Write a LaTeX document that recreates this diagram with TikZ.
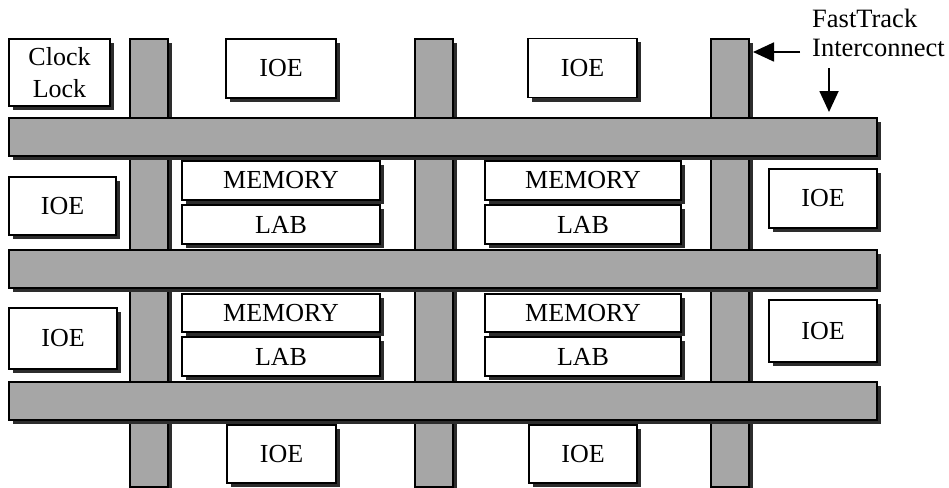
\documentclass[tikz,border=0pt]{standalone}
\usepackage{fontspec}
\setmainfont{Liberation Serif}
\usetikzlibrary{arrows.meta,shadows}
\definecolor{bargray}{RGB}{166,166,166}
\definecolor{shade}{RGB}{45,45,45}
\tikzset{
  shadowed/.style={drop shadow={shadow xshift=4pt, shadow yshift=-4pt, fill=shade, opacity=1}},
  bar/.style={shadowed, draw=black, line width=1.3pt, fill=bargray, inner sep=0pt, outer sep=0pt},
  vbar/.style={bar, minimum width=38pt, minimum height=448pt},
  hbar/.style={bar, minimum width=868pt, minimum height=38pt},
  box/.style={shadowed, draw=black, line width=1.3pt, fill=white, inner sep=0pt, outer sep=0pt,
    font=\fontsize{26}{32}\selectfont, align=center},
  ioe/.style={box, minimum width=108pt, minimum height=59pt},
  mem/.style={box, minimum height=39pt},
  arr/.style={line width=1.8pt, -{Triangle[length=21pt,width=19pt]}}
}
\begin{document}
\begin{tikzpicture}[x=1pt,y=-1pt]
\useasboundingbox (0,0) rectangle (949,487);
% vertical FastTrack bars
\node[vbar] (v1) at (149,263) {};
\node[vbar] (v2) at (434,263) {};
\node[vbar] (v3) at (730,263) {};
% horizontal FastTrack bars
\node[hbar] (h1) at (443,137) {};
\node[hbar] (h2) at (443,269) {};
\node[hbar] (h3) at (443,401) {};
% clock lock
\node[box, minimum width=101pt, minimum height=67pt] (clk) at (59.5,72.5) {Clock\\Lock};
% IOEs
\node[ioe, minimum width=110pt] (ioet1) at (281,68.5) {IOE};
\node[ioe, minimum width=109pt] (ioet2) at (582.5,68) {IOE};
\node[ioe, minimum width=107pt, minimum height=58pt] (ioel1) at (62.5,206) {IOE};
\node[ioe, minimum height=61pt] (ioel2) at (63,338.5) {IOE};
\node[ioe] (ioer1) at (823,198.5) {IOE};
\node[ioe, minimum height=62pt] (ioer2) at (823,331) {IOE};
\node[ioe, minimum width=109pt, minimum height=58pt] (ioeb1) at (281.5,454) {IOE};
\node[ioe, minimum width=108pt, minimum height=58pt] (ioeb2) at (583,454) {IOE};
% MEMORY / LAB
\node[mem, minimum width=198pt] (m11) at (281,180.5) {MEMORY};
\node[mem, minimum width=198pt] (l11) at (281,224.5) {LAB};
\node[mem, minimum width=196pt] (m12) at (583,180.5) {MEMORY};
\node[mem, minimum width=196pt] (l12) at (583,224.5) {LAB};
\node[mem, minimum width=198pt, minimum height=38pt] (m21) at (281,313) {MEMORY};
\node[mem, minimum width=198pt] (l21) at (281,356.5) {LAB};
\node[mem, minimum width=196pt, minimum height=38pt] (m22) at (583,313) {MEMORY};
\node[mem, minimum width=196pt] (l22) at (583,356.5) {LAB};
% label and arrows
\node[font=\fontsize{26.5}{29}\selectfont, align=left, anchor=north west, inner sep=0pt] (ftl) at (812,9) {FastTrack\\Interconnect};
\coordinate (a1) at (800,52);
\coordinate (a2) at (829,68);
\draw[arr, shorten >=4pt] (a1) -- (a1 -| v3.east);
\draw[arr, shorten >=6pt] (a2) -- (a2 |- h1.north);
\end{tikzpicture}
\end{document}
